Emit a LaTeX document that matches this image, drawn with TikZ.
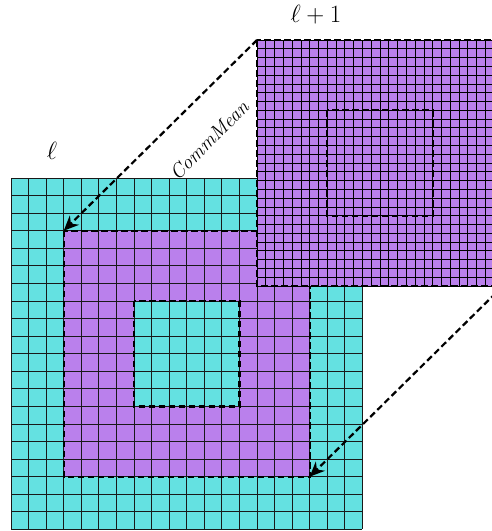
\documentclass[tikz,border=0pt]{standalone}
\usetikzlibrary{arrows.meta}
\definecolor{cellcyan}{RGB}{100,225,225}
\definecolor{cellpurple}{RGB}{186,128,236}
\begin{document}
\begin{tikzpicture}[x=1pt,y=-1pt,
  coarseline/.style={draw=black!90, line width=0.95pt},
  fineline/.style={draw=black, line width=0.75pt},
  regionborder/.style={draw=black, line width=2.2pt, dash pattern=on 6.5pt off 3.5pt},
  meanarrow/.style={draw=black, line width=2.2pt, dash pattern=on 6.5pt off 3.5pt, -{Stealth[length=15pt,width=13pt]}},
  lbl/.style={font=\fontsize{24}{29}\selectfont, inner sep=0pt}]
\useasboundingbox (0,0) rectangle (492,531);
\clip (0,0) rectangle (492,531);
\def\cs{17.57}
\def\fs{8.785}
% level l (coarse)
\coordinate (cTL) at (11,178);
\coordinate (cBR) at (362.4,529.4);
\coordinate (pTL) at (63.71,230.71);
\coordinate (pBR) at (309.69,476.69);
\coordinate (iTL) at (133.99,300.99);
\coordinate (iBR) at (239.41,406.41);
\fill[cellcyan] (cTL) rectangle (cBR);
\fill[cellpurple] (pTL) rectangle (pBR);
\fill[cellcyan] (iTL) rectangle (iBR);
\foreach \i in {0,...,20} {
  \draw[coarseline] (11+\i*\cs,178) -- ++(0,20*\cs);
  \draw[coarseline] (11,178+\i*\cs) -- ++(20*\cs,0);
}
\draw[regionborder] (pTL) rectangle (pBR);
\draw[regionborder] (iTL) rectangle (iBR);
% level l+1 (fine)
\coordinate (fTL) at (257,40);
\coordinate (fBR) at (502.98,285.98);
\coordinate (fiTL) at (327.28,110.28);
\coordinate (fiBR) at (432.7,215.7);
\fill[cellpurple] (fTL) rectangle (fBR);
\foreach \i in {0,...,28} {
  \draw[fineline] (257+\i*\fs,40) -- ++(0,28*\fs);
  \draw[fineline] (257,40+\i*\fs) -- ++(28*\fs,0);
}
\draw[regionborder] (fTL) rectangle (fBR);
\draw[regionborder] (fiTL) rectangle (fiBR);
% arrows
\draw[meanarrow] (fTL) -- (pTL);
\draw[meanarrow] (fBR) -- (pBR);
% labels
\node[lbl, font=\fontsize{27}{32}\selectfont] (ell) at (52,151) {$\ell$};
\node[lbl] (ellp) at (316,15) {$\ell+1$};
\node[font=\fontsize{20}{24}\selectfont\itshape, rotate=45, inner sep=0pt] (cm) at (209,140) {CommMean};
\end{tikzpicture}
\end{document}
